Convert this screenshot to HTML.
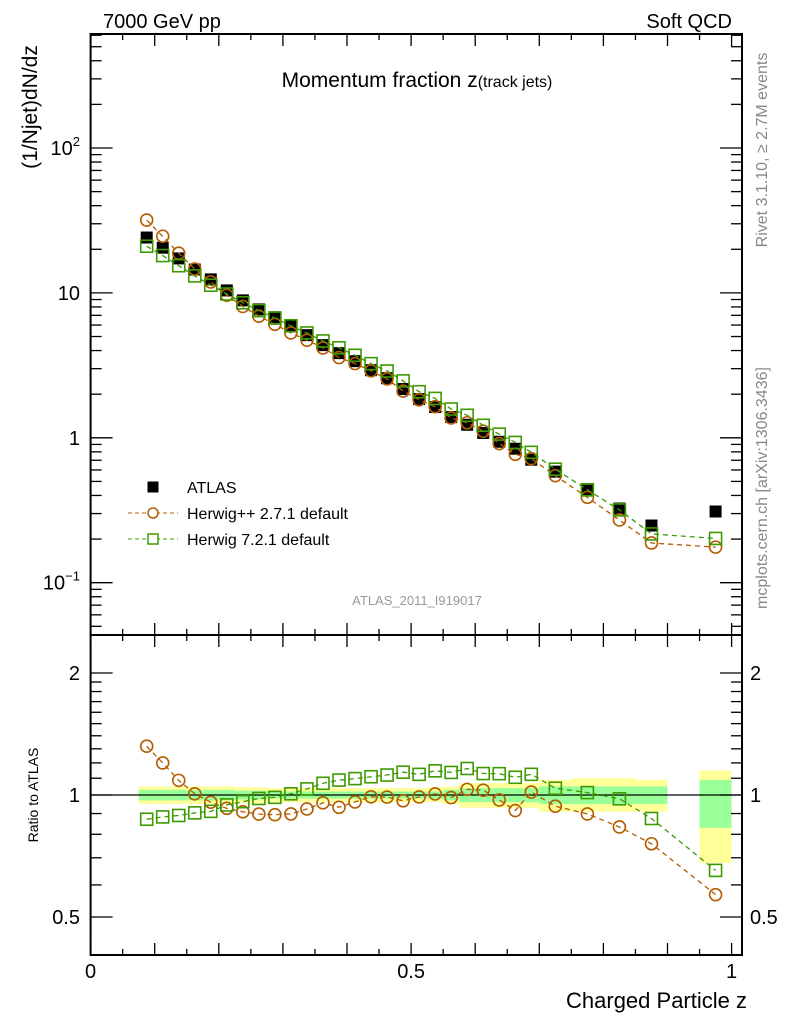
<!DOCTYPE html>
<html><head><meta charset="utf-8">
<style>
html,body{margin:0;padding:0;background:#fff;}
svg{display:block;font-family:"Liberation Sans",sans-serif;}
</style></head>
<body>
<svg id="chart" width="786" height="1024" viewBox="0 0 786 1024" xmlns="http://www.w3.org/2000/svg">
<g id="bands"></g>
<g id="marks"></g>
<g id="axes"></g>
<text x="103" y="28" font-size="20">7000 GeV pp</text>
<text x="732" y="28" font-size="20" text-anchor="end">Soft QCD</text>
<text x="417" y="87" font-size="21" text-anchor="middle">Momentum fraction <tspan>z</tspan><tspan font-size="16">(track jets)</tspan></text>
<text transform="translate(37,107) rotate(-90)" font-size="21" text-anchor="middle">(1/Njet)dN/dz</text>
<text transform="translate(38,795) rotate(-90)" font-size="14" text-anchor="middle">Ratio to ATLAS</text>
<text x="747" y="1008" font-size="22" text-anchor="end">Charged Particle z</text>
<text transform="translate(767,150) rotate(-90)" font-size="16" fill="#888" text-anchor="middle">Rivet 3.1.10, ≥ 2.7M events</text>
<text transform="translate(767,488) rotate(-90)" font-size="16" fill="#888" text-anchor="middle">mcplots.cern.ch [arXiv:1306.3436]</text>
<text x="417" y="605" font-size="13" fill="#999" text-anchor="middle">ATLAS_2011_I919017</text>
<g>
<rect x="147.5" y="481.5" width="11" height="11" fill="#000"/>
<text x="187" y="493" font-size="16">ATLAS</text>
<line x1="128" y1="513" x2="178" y2="513" stroke="#b35c00" stroke-dasharray="4,3"/>
<circle cx="153" cy="513" r="5" fill="#fff" stroke="#b35c00" stroke-width="1.5"/>
<text x="187" y="519" font-size="16">Herwig++ 2.7.1 default</text>
<line x1="128" y1="539" x2="178" y2="539" stroke="#3d9a00" stroke-dasharray="4,3"/>
<rect x="148" y="534" width="10" height="10" fill="#fff" stroke="#3d9a00" stroke-width="1.5"/>
<text x="187" y="545" font-size="16">Herwig 7.2.1 default</text>
</g>
</svg>
<script>
const binLo = [0.075,0.1,0.125,0.15,0.175,0.2,0.225,0.25,0.275,0.3,0.325,0.35,0.375,0.4,0.425,0.45,0.475,0.5,0.525,0.55,0.575,0.6,0.625,0.65,0.675,0.7,0.75,0.8,0.85,0.95];
const binHi = [0.1,0.125,0.15,0.175,0.2,0.225,0.25,0.275,0.3,0.325,0.35,0.375,0.4,0.425,0.45,0.475,0.5,0.525,0.55,0.575,0.6,0.625,0.65,0.675,0.7,0.75,0.8,0.85,0.9,1.0];
const atlas = [24.1,20.5,17.3,14.5,12.4,10.4,8.88,7.70,6.79,5.89,5.11,4.36,3.84,3.38,2.93,2.58,2.17,1.85,1.63,1.39,1.23,1.08,0.939,0.840,0.706,0.584,0.432,0.325,0.248,0.310];
const herwigpp = [31.8,24.6,18.8,14.6,11.9,9.64,8.07,6.91,6.07,5.29,4.72,4.17,3.58,3.25,2.90,2.55,2.10,1.83,1.64,1.37,1.27,1.11,0.913,0.769,0.718,0.548,0.388,0.271,0.188,0.176];
const herwig7 = [21.0,18.1,15.4,13.1,11.3,9.83,8.55,7.55,6.70,5.93,5.29,4.66,4.18,3.71,3.25,2.89,2.47,2.08,1.87,1.58,1.43,1.22,1.06,0.929,0.794,0.607,0.438,0.318,0.217,0.202];
const totLo = [0.95,0.95,0.95,0.95,0.95,0.95,0.955,0.955,0.96,0.96,0.96,0.96,0.96,0.96,0.96,0.96,0.96,0.96,0.96,0.95,0.93,0.93,0.93,0.93,0.93,0.91,0.91,0.91,0.91,0.68];
const totHi = [1.05,1.05,1.05,1.05,1.05,1.05,1.045,1.045,1.04,1.04,1.04,1.04,1.04,1.04,1.04,1.04,1.04,1.04,1.045,1.05,1.07,1.07,1.07,1.07,1.07,1.09,1.10,1.10,1.09,1.15];
const statLo = [0.97,0.97,0.97,0.97,0.97,0.97,0.975,0.975,0.98,0.98,0.98,0.98,0.98,0.98,0.98,0.98,0.98,0.98,0.98,0.97,0.96,0.96,0.96,0.96,0.96,0.95,0.95,0.95,0.95,0.83];
const statHi = [1.03,1.03,1.03,1.03,1.03,1.03,1.025,1.025,1.02,1.02,1.02,1.02,1.02,1.02,1.02,1.02,1.02,1.02,1.02,1.03,1.04,1.04,1.04,1.04,1.04,1.05,1.05,1.05,1.05,1.09];
const yTickVals = [0.1,1,10,100];
const yTickLabels = ["10","1","10","10"];
const yTickSup = ["−1","","","2"];
const rTickVals = [0.5,1,2];
const rTickLabels = ["0.5","1","2"];
const xTickVals = [0,0.5,1];
const xTickLabels = ["0","0.5","1"];

const NS="http://www.w3.org/2000/svg";
const L=90.6, R=742, T=34, MB=635, RB=955;
const X = z => L + 641*z;
const Y = v => 437.8 - 144.9*Math.log10(v);
const RY = r => 795 - 405.3*Math.log10(r);
const CP="#b35c00", CG="#3d9a00";
function mk(parent,tag,attrs){const e=document.createElementNS(NS,tag);for(const k in attrs)e.setAttribute(k,attrs[k]);parent.appendChild(e);return e;}
const bands=document.getElementById('bands'), marks=document.getElementById('marks'), axes=document.getElementById('axes');

for(let i=0;i<binLo.length;i++){
  let r=mk(bands,'rect',{x:X(binLo[i]),y:RY(totHi[i]),width:X(binHi[i])-X(binLo[i]),height:RY(totLo[i])-RY(totHi[i]),fill:'#ffff99'});
  
  
  let g=mk(bands,'rect',{x:X(binLo[i]),y:RY(statHi[i]),width:X(binHi[i])-X(binLo[i]),height:RY(statLo[i])-RY(statHi[i]),fill:'#99ff99'});
  
  
}
const ref=mk(marks,'line',{x1:L,x2:R,y1:RY(1),y2:RY(1),stroke:'#000','stroke-width':1.3});



const ctr=i=>(binLo[i]+binHi[i])/2;
function series(vals,col,shape,yfn,name){
  const pts=vals.map((v,i)=>X(ctr(i)).toFixed(1)+','+yfn(v,i).toFixed(1)).join(' ');
  const pl=mk(marks,'polyline',{points:pts,fill:'none',stroke:col,'stroke-width':1.3,'stroke-dasharray':'5,4'});
  
  
  vals.forEach((v,i)=>{
    const x=X(ctr(i)),y=yfn(v,i);let m;
    if(shape==='c') m=mk(marks,'circle',{cx:x,cy:y,r:6,fill:'none',stroke:col,'stroke-width':1.6});
    else m=mk(marks,'rect',{x:x-6,y:y-6,width:12,height:12,fill:'none',stroke:col,'stroke-width':1.6});
    
    
  });
}
atlas.forEach((v,i)=>{
  const m=mk(marks,'rect',{x:X(ctr(i))-6,y:Y(v)-6,width:12,height:12,fill:'#000'});
  
  
});
series(herwigpp,CP,'c',v=>Y(v),'herwigpp');
series(herwig7,CG,'s',v=>Y(v),'herwig7');
series(herwigpp,CP,'c',(v,i)=>RY(v/atlas[i]),'herwigpp-ratio');
series(herwig7,CG,'s',(v,i)=>RY(v/atlas[i]),'herwig7-ratio');

[[T,MB],[MB,RB]].forEach(([t,b],k)=>{
  const f=mk(axes,'rect',{x:L,y:t,width:R-L,height:b-t,fill:'none',stroke:'#000','stroke-width':2});
  
  
  for(let j=0;j<=20;j++){const z=j*0.05;const len=(j%2===0)?12:6;
    mk(axes,'line',{x1:X(z),x2:X(z),y1:b,y2:b-len,stroke:'#000','stroke-width':1.3});
    mk(axes,'line',{x1:X(z),x2:X(z),y1:t,y2:t+len,stroke:'#000','stroke-width':1.3});}
});
for(let d=-2;d<=2;d++)for(let m=1;m<=9;m++){const v=m*Math.pow(10,d);const y=Y(v);if(y<T||y>MB)continue;
  const len=m===1?22:11;
  mk(axes,'line',{x1:L,x2:L+len,y1:y,y2:y,stroke:'#000','stroke-width':1.3});
  mk(axes,'line',{x1:R,x2:R-len,y1:y,y2:y,stroke:'#000','stroke-width':1.3});}
yTickVals.forEach((v,i)=>{
  const t=mk(axes,'text',{x:80,y:Y(v)+7,'font-size':20,'text-anchor':'end'});
  t.textContent=yTickLabels[i];
  if(yTickSup[i]){const s=mk(t,'tspan',{'font-size':13,dy:-9});s.textContent=yTickSup[i];}
  
  
});
[0.5,0.6,0.7,0.8,0.9,1,1.1,1.2,1.3,1.4,1.5,1.6,1.7,1.8,1.9,2].forEach(r=>{
  const len=(r===0.5||r===1||r===2)?22:11;const y=RY(r);
  mk(axes,'line',{x1:L,x2:L+len,y1:y,y2:y,stroke:'#000','stroke-width':1.3});
  mk(axes,'line',{x1:R,x2:R-len,y1:y,y2:y,stroke:'#000','stroke-width':1.3});});
rTickVals.forEach((r,i)=>{
  const a=mk(axes,'text',{x:80,y:RY(r)+7,'font-size':20,'text-anchor':'end'});a.textContent=rTickLabels[i];
  
  
  const b=mk(axes,'text',{x:750,y:RY(r)+7,'font-size':20});b.textContent=rTickLabels[i];
  
  
});
xTickVals.forEach((z,i)=>{
  const t=mk(axes,'text',{x:X(z),y:978,'font-size':20,'text-anchor':'middle'});t.textContent=xTickLabels[i];
  
  
});
</script>
</body></html>
